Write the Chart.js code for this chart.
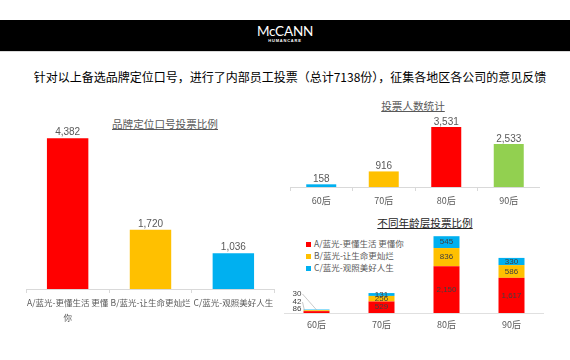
<!DOCTYPE html>
<html><head><meta charset="utf-8">
<script src="https://cdn.jsdelivr.net/npm/chart.js@4.4.0/dist/chart.umd.min.js"></script>
<style>
html,body{margin:0;padding:0;}
body{width:570px;height:360px;background:#fff;position:relative;overflow:hidden;font-family:"Noto Sans CJK SC","Noto Sans",sans-serif;}
#band{position:absolute;left:0;top:20px;width:570px;height:31px;background:#000;border-bottom:1px solid #d9d9d9;}
#logo{position:absolute;left:0;top:24px;width:570px;text-align:center;color:#fff;font-family:Lato,"Liberation Sans",sans-serif;font-size:13.5px;line-height:14px;letter-spacing:-0.2px;}
#logo2{position:absolute;left:0;top:38px;width:570px;text-align:center;color:#fff;font-family:"Liberation Sans",sans-serif;font-size:4px;line-height:5px;letter-spacing:0.8px;font-weight:bold;}
#headline{position:absolute;left:5px;top:69px;width:570px;text-align:center;color:#000;font-size:12px;line-height:16px;white-space:nowrap;}
.ttl{position:absolute;color:#595959;font-size:10.6px;line-height:13px;text-decoration:underline;white-space:nowrap;text-align:center;}
canvas{position:absolute;}
#legend{position:absolute;left:306px;top:237px;font-size:8.5px;line-height:12px;color:#595959;}
#legend div{white-space:nowrap;}
#legend span{display:inline-block;width:5px;height:5px;margin-right:3px;vertical-align:0px;}
</style></head>
<body>
<div id="band"></div>
<div id="logo">McCANN</div>
<div id="logo2">HUMANCARE</div>
<div id="headline">针对以上备选品牌定位口号，进行了内部员工投票（总计7138份），征集各地区各公司的意见反馈</div>
<div class="ttl" style="left:95px;top:117px;width:140px;">品牌定位口号投票比例</div>
<div class="ttl" style="left:363px;top:99px;width:100px;">投票人数统计</div>
<div class="ttl" style="left:365px;top:216px;width:120px;color:#262626;">不同年龄层投票比例</div>
<div id="legend"></div>
<canvas id="c1" width="250" height="219" style="left:25px;top:110px;"></canvas>
<canvas id="c2" width="250" height="99" style="left:290px;top:110px;"></canvas>
<canvas id="c3" width="260" height="115" style="left:284px;top:220px;"></canvas>
<script>
// ---- data ----
const brandLabels = [['A/蓝光-更懂生活 更懂', '你'], 'B/蓝光-让生命更灿烂', 'C/蓝光-观照美好人生'];
const brandVotes = [4382, 1720, 1036];
const brandColors = ['#FF0000', '#FFC000', '#00B0F0'];

const ageLabels = ['60后', '70后', '80后', '90后'];
const ageVotes = [158, 916, 3531, 2533];
const ageColors = ['#00B0F0', '#FFC000', '#FF0000', '#92D050'];

const seriesNames = ['A/蓝光-更懂生活 更懂你', 'B/蓝光-让生命更灿烂', 'C/蓝光-观照美好人生'];
const seriesColors = ['#FF0000', '#FFC000', '#00B0F0'];
const seriesA = [86, 529, 2150, 1617];
const seriesB = [42, 256, 836, 586];
const seriesC = [30, 131, 545, 330];

// ---- helpers ----
const CJK = '"Noto Sans CJK SC", "Noto Sans", sans-serif';
const NUM = '"Liberation Sans", Arial, sans-serif';
const fmt = v => v.toLocaleString('en-US');

const valueLabels = {
  id: 'valueLabels',
  afterDatasetsDraw(chart, args, opts) {
    const ctx = chart.ctx;
    ctx.save();
    ctx.font = `${opts.size || 10}px ${NUM}`;
    ctx.fillStyle = opts.color || '#595959';
    ctx.textBaseline = 'middle';
    chart.data.datasets.forEach((ds, di) => {
      const meta = chart.getDatasetMeta(di);
      meta.data.forEach((bar, i) => {
        const v = ds.data[i];
        const txt = fmt(v);
        if (opts.mode === 'top') {
          ctx.textAlign = 'center';
          ctx.fillText(txt, bar.x, bar.y - (opts.offset || 6));
        } else {
          const left = bar.x - bar.width / 2;
          const cy = (bar.y + bar.base) / 2;
          if (opts.outsideIndex === i) {
            const ly = chart.chartArea.bottom - opts.outsideOffsets[di];
            const lx = left - 2;
            ctx.textAlign = 'right';
            ctx.fillText(txt, lx, ly);
            if (di > 0) {
              ctx.strokeStyle = '#A6A6A6';
              ctx.lineWidth = 0.6;
              ctx.beginPath();
              ctx.moveTo(lx + 1, ly);
              ctx.lineTo(di === 2 ? bar.x : left + 1, cy);
              ctx.stroke();
            }
          } else {
            ctx.textAlign = 'center';
            ctx.fillText(txt, bar.x, cy);
          }
        }
      });
    });
    ctx.restore();
  }
};

function xAxis(size, height, opts) {
  return Object.assign({
    grid: { display: true, drawOnChartArea: false, tickLength: 4, color: '#D9D9D9', offset: true },
    border: { color: '#D9D9D9' },
    ticks: { color: '#595959', font: { family: CJK, size: size, lineHeight: 1.75 }, padding: 2, maxRotation: 0, autoSkip: false },
    afterFit(s) { s.height = height; }
  }, opts || {});
}

const common = {
  responsive: false,
  animation: false,
  plugins: { legend: { display: false }, tooltip: { enabled: false } }
};

// ---- chart 1 ----
new Chart(document.getElementById('c1'), {
  type: 'bar',
  data: { labels: brandLabels, datasets: [{ data: brandVotes, backgroundColor: brandColors, barPercentage: 0.5, categoryPercentage: 1 }] },
  options: Object.assign({}, common, {
    layout: { padding: { top: 7, left: 0, right: 0, bottom: 0 } },
    scales: {
      x: xAxis(8.5, 40),
      y: { display: false, min: 0, max: 5000 }
    },
    plugins: Object.assign({}, common.plugins, { valueLabels: { mode: 'top', offset: 6, size: 10, color: '#595959' } })
  }),
  plugins: [valueLabels]
});

// ---- chart 2 ----
new Chart(document.getElementById('c2'), {
  type: 'bar',
  data: { labels: ageLabels, datasets: [{ data: ageVotes, backgroundColor: ageColors, barPercentage: 0.48, categoryPercentage: 1 }] },
  options: Object.assign({}, common, {
    layout: { padding: { top: 9, left: 0, right: 0, bottom: 0 } },
    scales: {
      x: xAxis(9, 22, {}),
      y: { display: false, min: 0, max: 4000 }
    },
    plugins: Object.assign({}, common.plugins, { valueLabels: { mode: 'top', offset: 5, size: 10, color: '#595959' } })
  }),
  plugins: [valueLabels]
});

// ---- chart 3 ----
const stackSeries = [seriesA, seriesB, seriesC];
new Chart(document.getElementById('c3'), {
  type: 'bar',
  data: {
    labels: ageLabels,
    datasets: stackSeries.map((d, k) => ({ label: seriesNames[k], data: d, backgroundColor: seriesColors[k], barPercentage: 0.4, categoryPercentage: 1 }))
  },
  options: Object.assign({}, common, {
    layout: { padding: { top: 6, left: 0, right: 0, bottom: 0 } },
    scales: {
      x: {
        stacked: true,
        grid: { display: false, drawTicks: false },
        border: { color: '#E0E0E0' },
        ticks: { color: '#595959', font: { family: CJK, size: 9 }, padding: 6, maxRotation: 0, autoSkip: false },
        afterFit(s) { s.height = 22; }
      },
      y: { stacked: true, display: false, min: 0, max: 4000 }
    },
    plugins: Object.assign({}, common.plugins, { valueLabels: { mode: 'center', size: 8, color: '#404040', outsideIndex: 0, outsideOffsets: [4, 11, 19] } })
  }),
  plugins: [valueLabels]
});

// legend (built from series arrays)
document.getElementById('legend').innerHTML = seriesNames.map((n, k) =>
  `<div><span style="background:${seriesColors[k]}"></span>${n}</div>`).join('');
</script>
</body></html>
